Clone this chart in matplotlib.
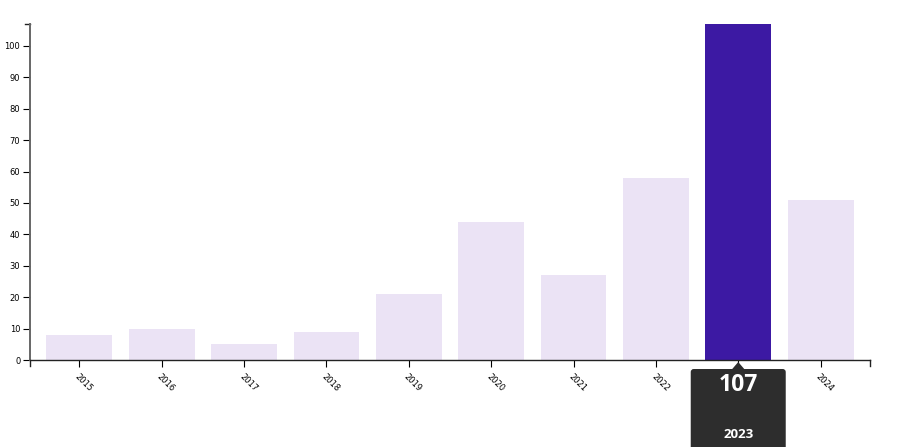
import numpy as np
import matplotlib.pyplot as plt
from matplotlib.patches import FancyBboxPatch, Polygon

years = ['2015', '2016', '2017', '2018', '2019', '2020', '2021', '2022', '2023', '2024']
counts = [8, 10, 5, 9, 21, 44, 27, 58, 107, 51]
highlight = '2023'

light = '#ebe3f5'
dark = '#3c19a3'

fig = plt.figure(figsize=(9.13, 4.47), dpi=100)
ax = fig.add_axes([30/913, 87/447, 840/913, 336/447])

x = np.arange(len(years))
colors = [dark if y == highlight else light for y in years]
ax.bar(x, counts, width=0.8, color=colors)

ax.set_xlim(-0.6, 9.6)
ax.set_ylim(0, 107)
ax.set_yticks(np.arange(0, 101, 10))
ax.set_xticks(x)
ax.set_xticklabels(years, rotation=-45, ha='left', va='top', rotation_mode='anchor')
ax.tick_params(axis='both', labelsize=6, length=5, width=0.8, direction='out', pad=2)
ax.tick_params(axis='x', pad=4)

for s in ['top', 'right']:
    ax.spines[s].set_visible(False)
ax.spines['left'].set_color('#666666')
ax.spines['left'].set_linewidth(1.4)
ax.spines['bottom'].set_color('#222222')
ax.spines['bottom'].set_linewidth(1.0)

# outer ticks at the domain ends (d3 style)
ax.plot([-0.6, -0.6], [0, -1.8], color='#222222', lw=1, clip_on=False)
ax.plot([9.6, 9.6], [0, -1.8], color='#222222', lw=1, clip_on=False)
ax.plot([-0.6, -0.66], [107, 107], color='#222222', lw=1, clip_on=False)

# tooltip for the highlighted year
i = years.index(highlight)
fig.canvas.draw()
px, py = ax.transData.transform((i, 0))
w = 95
top = py - 9
box = FancyBboxPatch((px - w/2, -20), w, top + 20, boxstyle='round,pad=0,rounding_size=3',
                     transform=None, facecolor='#2d2d2d', edgecolor='none', clip_on=False)
fig.patches.append(box)
tri = Polygon([[px - 6, top], [px + 6, top], [px, top + 7]], closed=True, transform=None,
              facecolor='#2d2d2d', edgecolor='none')
fig.patches.append(tri)
fig.text(px / 913, (top - 16) / 447, str(counts[i]), color='white', fontsize=16.5,
         fontweight='bold', family='Open Sans', ha='center', va='center')
fig.text(px / 913, (top - 65) / 447, highlight, color='white', fontsize=9.5,
         fontweight='bold', family='Open Sans', ha='center', va='center')

fig.savefig('out.png', dpi=100)
